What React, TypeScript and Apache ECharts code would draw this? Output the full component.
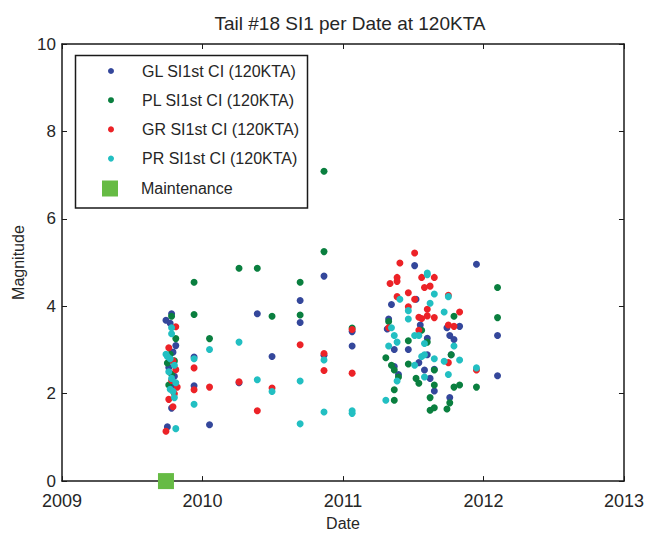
import React, { useEffect, useRef } from "react";
import * as echarts from "echarts";

const title = "Tail #18 SI1 per Date at 120KTA";
const xTicks = [2009, 2010, 2011, 2012, 2013];
const yTicks = [0, 2, 4, 6, 8, 10];
const seriesNames = [
  "GL SI1st CI (120KTA)",
  "PL SI1st CI (120KTA)",
  "GR SI1st CI (120KTA)",
  "PR SI1st CI (120KTA)",
];
const maintenanceName = "Maintenance";

const glData: [number, number][] = [
  [2009.78, 3.83], [2009.74, 3.68], [2009.77, 3.61], [2009.81, 3.1], [2009.79, 2.95],
  [2009.76, 2.6], [2009.8, 2.4], [2009.78, 1.67], [2009.75, 1.24], [2009.79, 2.2],
  [2009.94, 2.84], [2009.94, 2.18], [2010.05, 1.29], [2010.26, 2.25], [2010.39, 3.83],
  [2010.495, 2.85], [2010.695, 4.13], [2010.695, 3.63], [2010.865, 4.69], [2010.865, 2.88],
  [2011.065, 3.42], [2011.065, 3.09],
  [2011.51, 4.93], [2011.95, 4.96], [2011.52, 4.16], [2011.345, 4.04], [2011.325, 3.71],
  [2011.55, 3.57], [2011.315, 3.48], [2011.74, 3.51], [2011.83, 3.54], [2012.1, 3.33],
  [2011.6, 3.27], [2011.76, 3.33], [2011.79, 3.24], [2011.365, 3.01], [2011.465, 3.01],
  [2011.6, 2.89], [2011.77, 2.89], [2011.54, 2.71], [2011.365, 2.62], [2012.1, 2.41],
  [2011.395, 2.44], [2011.58, 2.54], [2011.65, 2.56], [2011.62, 2.35], [2011.65, 2.06],
  [2011.76, 1.91],
];

const plData: [number, number][] = [
  [2009.78, 3.77], [2009.81, 3.26], [2009.77, 2.9], [2009.75, 2.7], [2009.78, 2.45],
  [2009.76, 2.2], [2009.8, 2.75],
  [2009.94, 3.81], [2009.94, 4.55], [2010.05, 3.26], [2010.26, 4.87], [2010.39, 4.87],
  [2010.495, 3.77], [2010.695, 4.55], [2010.695, 3.8], [2010.865, 7.09], [2010.865, 5.25],
  [2011.065, 3.5],
  [2012.1, 4.43], [2011.79, 3.77], [2012.1, 3.74], [2011.325, 3.65], [2011.56, 3.45],
  [2011.6, 3.18], [2011.465, 3.21], [2011.305, 2.82], [2011.465, 2.68], [2011.345, 2.65],
  [2011.365, 2.54], [2011.77, 2.89], [2011.395, 2.38], [2011.65, 2.54], [2011.52, 2.35],
  [2011.54, 2.24], [2011.65, 2.2], [2011.79, 2.15], [2011.83, 2.2], [2011.95, 2.15],
  [2011.365, 2.09], [2011.365, 1.85], [2011.62, 1.91], [2011.76, 1.79], [2011.62, 1.62],
  [2011.65, 1.68], [2011.74, 1.65],
];

const grData: [number, number][] = [
  [2009.81, 3.53], [2009.76, 3.05], [2009.79, 2.75], [2009.81, 2.55], [2009.78, 2.3],
  [2009.82, 2.15], [2009.76, 1.87], [2009.79, 1.7], [2009.74, 1.14], [2009.8, 2.0],
  [2009.94, 2.59], [2009.94, 2.09], [2010.05, 2.15], [2010.26, 2.27], [2010.39, 1.61],
  [2010.495, 2.13], [2010.695, 3.12], [2010.865, 2.92], [2010.865, 2.53], [2011.065, 3.47],
  [2011.065, 2.47],
  [2011.51, 5.22], [2011.405, 4.99], [2011.385, 4.66], [2011.385, 4.57], [2011.335, 4.52],
  [2011.56, 4.66], [2011.65, 4.66], [2011.62, 4.46], [2011.58, 4.43], [2011.465, 4.31],
  [2011.385, 4.22], [2011.51, 4.16], [2011.75, 4.25], [2011.465, 3.99], [2011.6, 3.93],
  [2011.83, 3.87], [2011.54, 3.75], [2011.56, 3.72], [2011.6, 3.78], [2011.65, 3.74],
  [2011.325, 3.51], [2011.54, 3.45], [2011.75, 3.57], [2011.79, 3.54], [2011.75, 2.71],
  [2011.95, 2.54],
];

const prData: [number, number][] = [
  [2009.78, 3.51], [2009.78, 3.37], [2009.74, 2.9], [2009.77, 2.8], [2009.8, 2.65],
  [2009.76, 2.5], [2009.78, 2.35], [2009.81, 2.25], [2009.77, 2.1], [2009.8, 1.91],
  [2009.81, 1.2], [2009.75, 2.85], [2009.79, 2.05],
  [2009.94, 2.8], [2009.94, 1.76], [2010.05, 3.01], [2010.26, 3.18], [2010.39, 2.32],
  [2010.495, 2.05], [2010.695, 2.29], [2010.695, 1.31], [2010.865, 2.77], [2010.865, 1.58],
  [2011.065, 1.61], [2011.065, 1.55],
  [2011.6, 4.76], [2011.6, 4.72], [2011.65, 4.28], [2011.405, 4.16], [2011.62, 4.07],
  [2011.75, 4.22], [2011.465, 3.9], [2011.72, 3.87], [2011.465, 3.71], [2011.345, 3.51],
  [2011.51, 3.33], [2011.54, 3.33], [2011.365, 3.33], [2011.58, 3.15], [2011.385, 3.18],
  [2011.325, 3.09], [2011.79, 3.09], [2011.56, 2.85], [2011.58, 2.89], [2011.65, 2.8],
  [2011.51, 2.65], [2011.72, 2.74], [2011.83, 2.77], [2011.95, 2.59], [2011.58, 2.38],
  [2011.385, 2.29], [2011.75, 2.44], [2011.305, 1.85],
];

const maintenanceData: [number, number][] = [[2009.74, 0]];

const seriesData = [glData, plData, grData, prData];
const seriesColors = ["#34479b", "#0a7f3f", "#ec2227", "#22bfc2"];
const maintenanceColor = "#66bb44";

const FONT = '"Liberation Sans", Arial, sans-serif';
const TXT = "#262626";

export default function App() {
  const ref = useRef<HTMLDivElement>(null);
  useEffect(() => {
    document.body.style.margin = "0";
    const chart = echarts.init(ref.current!, null, { renderer: "svg" });
    const axisCommon = {
      type: "value" as const,
      axisLine: { show: true, onZero: false, lineStyle: { color: "#1a1a1a", width: 1.5 } },
      axisTick: { show: true, inside: true, length: 5, lineStyle: { color: "#1a1a1a", width: 1 } },
      splitLine: { show: false },
    };
    const legendText = { fontFamily: FONT, fontSize: 16, color: TXT, lineHeight: 18, padding: [0, 0, 0, 5] };
    chart.setOption({
      animation: false,
      backgroundColor: "#ffffff",
      textStyle: { fontFamily: FONT },
      title: {
        text: title,
        left: 345,
        textAlign: "center",
        top: 9,
        textStyle: { fontFamily: FONT, fontSize: 19, fontWeight: "normal", color: TXT },
      },
      grid: { left: 62, right: 19, top: 44, bottom: 52, containLabel: false },
      xAxis: [
        {
          ...axisCommon,
          min: xTicks[0],
          max: xTicks[xTicks.length - 1],
          interval: 1,
          position: "bottom",
          name: "Date",
          nameLocation: "middle",
          nameGap: 32,
          nameTextStyle: { fontFamily: FONT, fontSize: 16, color: TXT },
          axisLabel: { margin: 12, fontFamily: FONT, fontSize: 18, lineHeight: 16, color: TXT, formatter: (v: number) => String(v) },
        },
        {
          ...axisCommon,
          min: xTicks[0],
          max: xTicks[xTicks.length - 1],
          interval: 1,
          position: "top",
          axisLabel: { show: false },
        },
      ],
      yAxis: [
        {
          ...axisCommon,
          min: yTicks[0],
          max: yTicks[yTicks.length - 1],
          interval: 2,
          position: "left",
          name: "Magnitude",
          nameLocation: "middle",
          nameGap: 36,
          nameTextStyle: { fontFamily: FONT, fontSize: 16, color: TXT },
          axisLabel: { margin: 6, fontFamily: FONT, fontSize: 17, lineHeight: 12, color: TXT },
        },
        {
          ...axisCommon,
          min: yTicks[0],
          max: yTicks[yTicks.length - 1],
          interval: 2,
          position: "right",
          axisLabel: { show: false },
        },
      ],
      legend: [
        {
          orient: "vertical",
          left: 108,
          top: 62,
          padding: 0,
          itemWidth: 42,
          itemHeight: 6,
          itemGap: 11.2,
          icon: "circle",
          selectedMode: false,
          data: seriesNames,
          textStyle: legendText,
        },
        {
          orient: "vertical",
          left: 102,
          top: 179.5,
          padding: 0,
          itemWidth: 42,
          itemHeight: 16,
          icon: "path://M0,0L16,0L16,16L0,16Z",
          selectedMode: false,
          data: [maintenanceName],
          textStyle: legendText,
        },
      ],
      graphic: [
        {
          type: "rect",
          left: 73,
          top: 53,
          shape: { width: 232, height: 152.5 },
          style: { fill: "none", stroke: "#1a1a1a", lineWidth: 1.5 },
          z: 100,
        },
      ],
      series: [
        ...seriesNames.map((name, i) => ({
          name,
          type: "scatter",
          xAxisIndex: 0,
          yAxisIndex: 0,
          symbol: "circle",
          symbolSize: 7,
          clip: false,
          itemStyle: { color: seriesColors[i], opacity: 1 },
          data: seriesData[i],
        })),
        {
          name: maintenanceName,
          type: "scatter",
          xAxisIndex: 0,
          yAxisIndex: 0,
          symbol: "rect",
          symbolSize: 16,
          clip: false,
          z: 5,
          itemStyle: { color: maintenanceColor, opacity: 1 },
          data: maintenanceData,
        },
      ],
    });
    return () => chart.dispose();
  }, []);
  return <div ref={ref} style={{ width: 647, height: 536 }} />;
}
